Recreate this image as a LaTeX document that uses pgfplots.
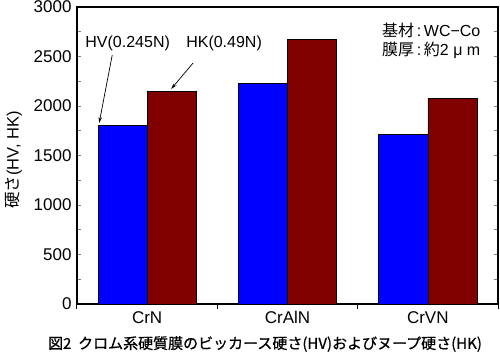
\documentclass[border=0pt]{standalone}
\usepackage{fontspec}
\setmainfont{Liberation Sans}
\newfontfamily\cjk{Noto Sans CJK JP}
\newfontfamily\cjkcap[FakeBold=0.8]{Noto Sans CJK JP}
\usepackage{pgfplots}
\pgfplotsset{compat=1.18}
\usetikzlibrary{arrows.meta}
\definecolor{hvblue}{HTML}{0000FF}
\definecolor{hkred}{HTML}{800000}
\begin{document}
\begin{tikzpicture}
\useasboundingbox (-77bp,-54bp) rectangle (423bp,304bp);
\begin{axis}[
  at={(0,0)}, anchor=south west,
  scale only axis, width=421bp, height=297bp,
  xmin=-0.5, xmax=2.5, ymin=0, ymax=3000,
  axis line style={line width=1.2bp},
  xtick={0,1,2}, xticklabels={CrN,CrAlN,CrVN},
  x tick style={draw=none},
  extra x ticks={-0.5,0.5,1.5,2.5}, extra x tick labels={},
  extra x tick style={tick align=outside, x tick style={draw=black, line width=1bp}, major tick length=5bp},
  xtick pos=bottom,
  ytick={0,500,...,3000}, minor y tick num=1,
  ytick pos=both, tick align=inside,
  y tick style={line width=1bp},
  major tick length=4bp, minor tick length=4bp,
  /pgf/number format/assume math mode=true,
  /pgf/number format/1000 sep={},
  tick label style={font=\fontsize{17bp}{19bp}\selectfont},
  yticklabel style={xshift=-2bp},
  xticklabel style={yshift=-4bp},
  ylabel={{\cjk 硬さ}(HV, HK)},
  ylabel style={font=\fontsize{16.5bp}{19bp}\selectfont, at={(axis description cs:-0.15,0.485)}, anchor=center},
  clip=false,
]
\addplot[ybar, bar width=0.35, bar shift=-0.175, fill=hvblue, draw=black, line width=0.6bp]
  coordinates {(0,1805) (1,2225) (2,1710)};
\addplot[ybar, bar width=0.35, bar shift=0.175, fill=hkred, draw=black, line width=0.6bp]
  coordinates {(0,2145) (1,2675) (2,2075)};
\node[font=\fontsize{16bp}{18bp}\selectfont] at (axis cs:-0.139,2636) {HV(0.245N)};
\node[font=\fontsize{16bp}{18bp}\selectfont] at (axis cs:0.548,2636) {HK(0.49N)};
\draw[-{Stealth[length=6bp,width=3.5bp]}, line width=0.7bp] (axis cs:-0.249,2515) -- (axis cs:-0.342,1828);
\draw[-{Stealth[length=6bp,width=3.5bp]}, line width=0.7bp] (axis cs:0.327,2434) -- (axis cs:0.171,2172);
\node[anchor=west, font=\fontsize{16bp}{18bp}\selectfont, inner sep=0pt] at (axis cs:1.673,2768) {{\cjk 基材}\,:\,WC−Co};
\node[anchor=west, font=\fontsize{16bp}{18bp}\selectfont, inner sep=0pt] at (axis cs:1.673,2566) {{\cjk 膜厚}\,:\,{\cjk 約}2 μ m};
\end{axis}
\node[font=\cjkcap\fontsize{15bp}{18bp}\selectfont] at (188bp,-40bp) {図2\ \ クロム系硬質膜のビッカース硬さ(HV)およびヌープ硬さ(HK)};
\end{tikzpicture}
\end{document}
